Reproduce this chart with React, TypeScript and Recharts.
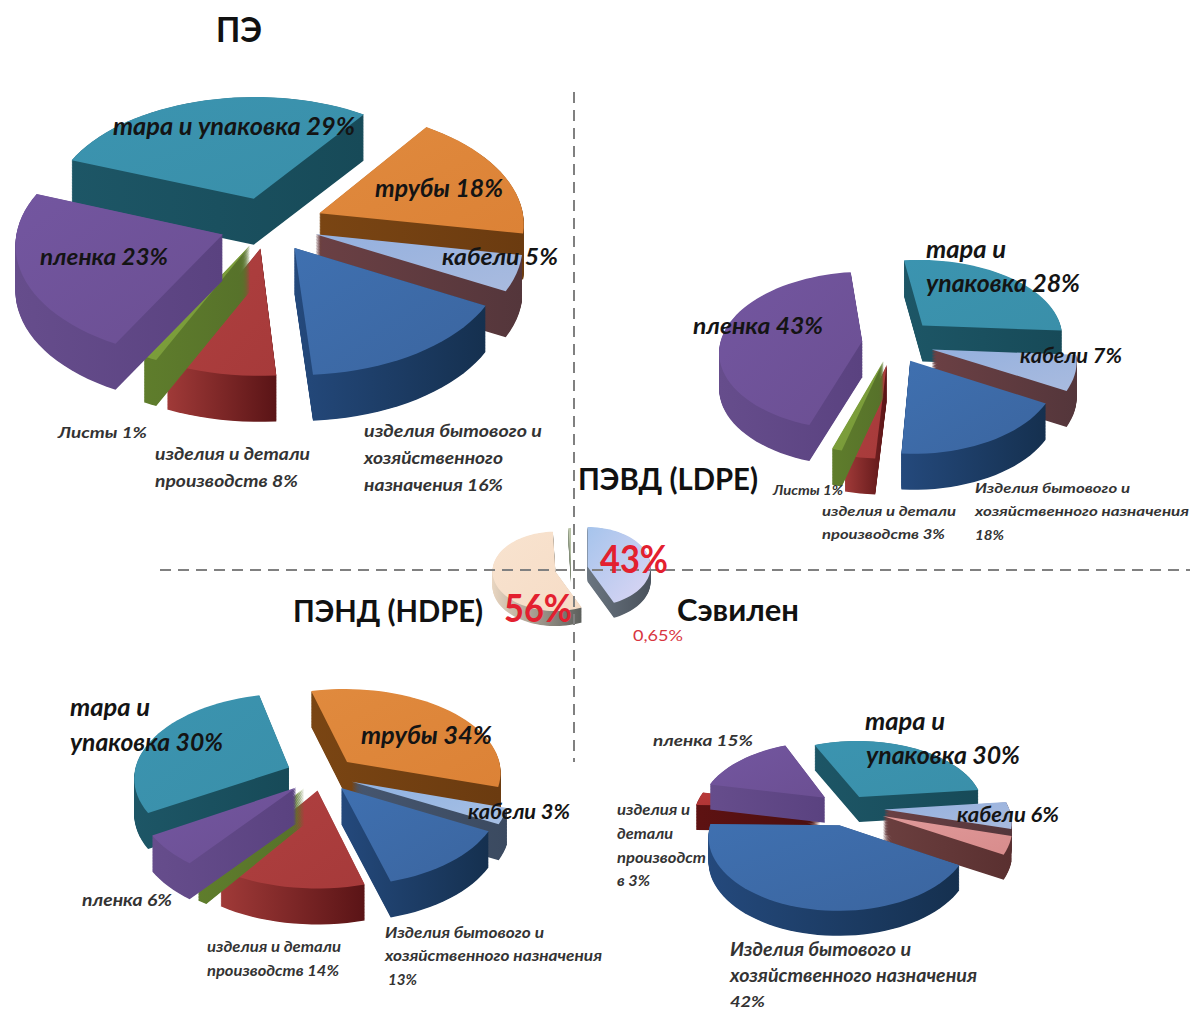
import { Pie, PieChart } from "recharts"

// ---- data ----
const peNames = ["тара и упаковка", "трубы", "кабели", "изделия бытового", "изделия и детали", "Листы", "пленка"]
const peValues = [29, 18, 5, 16, 8, 1, 23]

const ldpeNames = ["тара и упаковка", "кабели", "Изделия бытового", "изделия и детали", "Листы", "пленка"]
const ldpeValues = [28, 7, 18, 3, 1, 43]

const hdpeNames = ["тара и упаковка", "трубы", "кабели", "Изделия бытового", "изделия и детали", "Листы", "пленка"]
const hdpeValues = [30, 34, 3, 13, 14, 1, 6]

// slices listed so the big blue one is painted last
const sevilenNames = ["изделия и детали", "пленка", "тара и упаковка", "кабели", "прочее", "Изделия бытового"]
const sevilenValues = [3, 15, 30, 6, 4, 42]

const shareNames = ["Сэвилен", "ПЭНД (HDPE)", "ПЭВД (LDPE)"]
const shareValues = [43, 56, 0.65]

// ---- look of each pie ----
const palette: Record<string, string[]> = {
    teal: ["#3b94b0", "#3a8fa9", "#1d5666", "#174a58"],
    orange: ["#e08a3e", "#dc8236", "#7a4513", "#6b3b10"],
    cable: ["#94b0de", "#a9bbdf", "#6b4044", "#54363b"],
    cableSlate: ["#8fb2e2", "#a8c0e4", "#46566f", "#3b4a60"],
    blue: ["#3f70b0", "#3b659f", "#24497c", "#15304f"],
    red: ["#b04040", "#a63a3a", "#a03a38", "#5a1416"],
    redDark: ["#b93a3a", "#a83030", "#5e1212", "#4a0f10"],
    green: ["#83a63f", "#749536", "#5f7d2c", "#56712a"],
    purple: ["#7356a0", "#6b4f92", "#664d8c", "#5a4280"],
    pink: ["#e09a9a", "#d88c8c", "#6b3f3f", "#5a3030"],
    sky: ["#a6c4ec", "#dcd6f4", "#6a7580", "#4a525c"],
    beige: ["#f8e3cf", "#f6dcc6", "#e8d5c0", "#5c5f5c"],
    sage: ["#c4cdb2", "#aab79a", "#8a9580", "#7a8570"],
}

const pies = [
    {
        id: "pe", names: peNames, values: peValues,
        colors: ["teal", "orange", "cable", "blue", "red", "green", "purple"],
        explode: [50, 56, 50, 48, 42, 40, 48],
        cx: 268, cy: 225, r: 205, k: 0.56, p: 0.078, depth: 46, start: 159,
    },
    {
        id: "ldpe", names: ldpeNames, values: ldpeValues,
        colors: ["teal", "cable", "blue", "red", "green", "purple"],
        explode: [44, 40, 35, 38, 32, 31],
        cx: 893, cy: 343, r: 142, k: 0.56, p: 0.12, depth: 36, start: 97,
    },
    {
        id: "hdpe", names: hdpeNames, values: hdpeValues,
        colors: ["teal", "orange", "cableSlate", "blue", "red", "green", "purple"],
        explode: [36, 35, 32, 30, 28, 30, 34],
        cx: 322, cy: 775, r: 155, k: 0.55, p: 0.11, depth: 36, start: 211,
    },
    {
        id: "sevilen", names: sevilenNames, values: sevilenValues,
        colors: ["redDark", "purple", "teal", "cable", "pink", "blue"],
        explode: [28, 30, 23, 36, 37, 31],
        cx: 848, cy: 808, r: 125, k: 0.56, p: 0.15, depth: 25, start: 179,
    },
    {
        id: "share", names: shareNames, values: shareValues,
        colors: ["sky", "beige", "sage"],
        explode: [17, 16, 2],
        cx: 571, cy: 569, r: 63, k: 0.63, p: 0.0, depth: 15, start: 90,
    },
]

const bodyFont = "Lato, 'Noto Sans', sans-serif"

// x, baseline, width, size, text
const labels: [number, number, number, number, string][] = [
    [113, 135, 242, 24, "тара и упаковка 29%"],
    [375, 197, 128, 24, "трубы 18%"],
    [442, 265, 116, 23, "кабели 5%"],
    [40, 265, 128, 23, "пленка 23%"],
    [58, 438, 89, 16, "Листы 1%"],
    [155, 460, 155, 17, "изделия и детали"],
    [155, 487, 143, 17, "производств 8%"],
    [364, 437, 178, 17, "изделия бытового и"],
    [364, 464, 139, 17, "хозяйственного"],
    [364, 491, 139, 17, "назначения 16%"],

    [926, 258, 80, 25, "тара и"],
    [926, 292, 154, 25, "упаковка 28%"],
    [1020, 363, 102, 21, "кабели 7%"],
    [693, 334, 130, 22, "пленка 43%"],
    [773, 495, 70, 13, "Листы 1%"],
    [822, 516, 134, 14, "изделия и детали"],
    [822, 539, 123, 14, "производств 3%"],
    [975, 493, 155, 14, "Изделия бытового и"],
    [975, 516, 214, 14, "хозяйственного назначения"],
    [975, 540, 29, 14, "18%"],

    [70, 716, 80, 25, "тара и"],
    [70, 751, 153, 25, "упаковка 30%"],
    [361, 744, 131, 24, "трубы 34%"],
    [468, 819, 102, 21, "кабели 3%"],
    [82, 906, 90, 17, "пленка 6%"],
    [207, 952, 134, 15, "изделия и детали"],
    [207, 976, 132, 15, "производств 14%"],
    [385, 938, 159, 15, "Изделия бытового и"],
    [385, 961, 217, 15, "хозяйственного назначения"],
    [388, 985, 29, 15, "13%"],

    [865, 730, 80, 25, "тара и"],
    [866, 764, 154, 25, "упаковка 30%"],
    [957, 822, 102, 21, "кабели 6%"],
    [653, 746, 100, 16, "пленка 15%"],
    [617, 815, 73, 15, "изделия и"],
    [617, 839, 56, 15, "детали"],
    [617, 863, 89, 15, "производст"],
    [617, 886, 33, 15, "в 3%"],
    [730, 956, 181, 18, "Изделия бытового и"],
    [730, 982, 247, 18, "хозяйственного назначения"],
    [730, 1007, 35, 16, "42%"],
]

// x, baseline, width, size, text
const titles: [number, number, number, number, string][] = [
    [216, 42, 46, 34, "ПЭ"],
    [578, 490, 180, 30, "ПЭВД (LDPE)"],
    [293, 622, 190, 30, "ПЭНД (HDPE)"],
    [677, 621, 122, 30, "Сэвилен"],
]

const toRad = (a: number) => (a * Math.PI) / 180

// flat pie wedge pushed through a small perspective, so the back is flatter than the front
function wedgePath(cfg: any, from: number, to: number, mid: number, push: number, drop: number) {
    const { cx, cy, r, k, p } = cfg
    const ox = push * Math.cos(toRad(mid))
    const oy = -push * Math.sin(toRad(mid))
    const project = (x: number, y: number) => {
        const s = 1 + (p * y) / r
        return `${(cx + x * s).toFixed(1)} ${(cy + k * y * s + drop).toFixed(1)}`
    }
    let d = `M${project(ox, oy)}`
    const steps = Math.max(2, Math.ceil(Math.abs(to - from) / 3))
    for (let i = 0; i <= steps; i++) {
        const a = toRad(from + ((to - from) * i) / steps)
        d += `L${project(ox + r * Math.cos(a), oy - r * Math.sin(a))}`
    }
    return d + "Z"
}

function Wedge(props: any) {
    const { cfg, startAngle, endAngle, midAngle } = props
    const name = props.payload?.name ?? props.name
    const i = cfg.names.indexOf(name)
    const color = cfg.colors[i]
    const push = cfg.explode[i]
    const walls = []
    for (let d = cfg.depth; d > 0; d -= 0.75) {
        walls.push(
            <path key={d} d={wedgePath(cfg, startAngle, endAngle, midAngle, push, d)} fill={`url(#side-${color})`} />
        )
    }
    return (
        <g>
            {walls}
            <path d={wedgePath(cfg, startAngle, endAngle, midAngle, push, 0)} fill={`url(#top-${color})`} />
        </g>
    )
}

export default function App() {
    return (
        <div style={{ position: "absolute", left: 0, top: 0, width: 1190, height: 1011 }}>
            <PieChart width={1190} height={1011} margin={{ top: 0, right: 0, bottom: 0, left: 0 }}>
                <defs>
                    {Object.entries(palette).map(([key, c]) => (
                        <linearGradient key={`top-${key}`} id={`top-${key}`} x1="0" y1="0" x2="1" y2="1">
                            <stop offset="0" stopColor={c[0]} />
                            <stop offset="1" stopColor={c[1]} />
                        </linearGradient>
                    ))}
                    {Object.entries(palette).map(([key, c]) => (
                        <linearGradient key={`side-${key}`} id={`side-${key}`} x1="0" y1="0" x2="1" y2="0">
                            <stop offset="0" stopColor={c[2]} />
                            <stop offset="1" stopColor={c[3]} />
                        </linearGradient>
                    ))}
                </defs>

                {pies.map((cfg) => (
                    <Pie
                        key={cfg.id}
                        data={cfg.names.map((name, i) => ({ name, value: cfg.values[i] }))}
                        dataKey="value"
                        nameKey="name"
                        cx={cfg.cx}
                        cy={cfg.cy}
                        innerRadius={0}
                        outerRadius={cfg.r}
                        startAngle={cfg.start}
                        endAngle={cfg.start - 360}
                        stroke="none"
                        isAnimationActive={false}
                        shape={(p: any) => <Wedge {...p} cfg={cfg} />}
                    />
                ))}
            </PieChart>

            {/* the pies paint above any svg child of the chart, so the texts sit in their own layer */}
            <svg width={1190} height={1011} style={{ position: "absolute", left: 0, top: 0, pointerEvents: "none" }}>
                <line x1={574} y1={92} x2={574} y2={762} stroke="#808080" strokeWidth={2} strokeDasharray="11 7" />
                <line x1={160} y1={570} x2={1190} y2={570} stroke="#808080" strokeWidth={2} strokeDasharray="11 7" />

                {labels.map(([x, y, w, size, text]) => (
                    <text
                        key={`${x}-${y}`}
                        x={x}
                        y={y}
                        textLength={w}
                        lengthAdjust="spacingAndGlyphs"
                        fontFamily={bodyFont}
                        fontSize={size}
                        fontStyle="italic"
                        fontWeight={700}
                        fill={size < 20 ? "#333" : "#141414"}
                    >
                        {text}
                    </text>
                ))}
                {titles.map(([x, y, w, size, text]) => (
                    <text
                        key={text}
                        x={x}
                        y={y}
                        textLength={w}
                        lengthAdjust="spacingAndGlyphs"
                        fontFamily={bodyFont}
                        fontSize={size}
                        fontWeight={700}
                        fill="#111"
                    >
                        {text}
                    </text>
                ))}
                <text x={600} y={573} textLength={68} lengthAdjust="spacingAndGlyphs" fontFamily={bodyFont} fontSize={38} fontWeight={700} fill="#e3202f">43%</text>
                <text x={504} y={622} textLength={68} lengthAdjust="spacingAndGlyphs" fontFamily={bodyFont} fontSize={38} fontWeight={700} fill="#e3202f">56%</text>
                <text x={633} y={641} textLength={50} lengthAdjust="spacingAndGlyphs" fontFamily={bodyFont} fontSize={16} fill="#d8353f">0,65%</text>
            </svg>
        </div>
    )
}
